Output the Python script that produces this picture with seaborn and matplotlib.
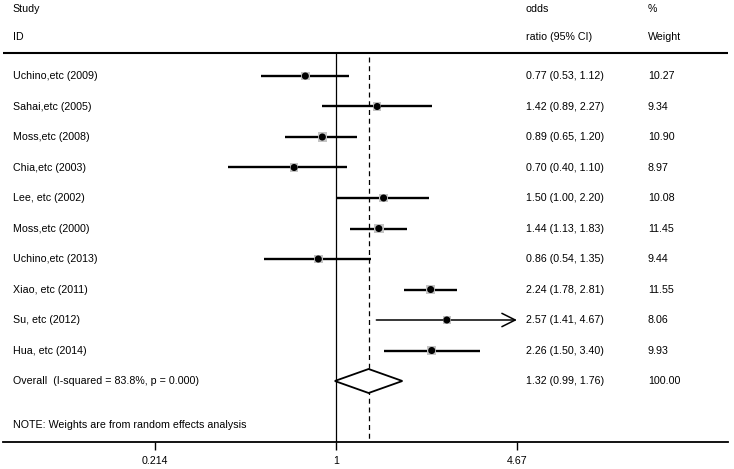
import numpy as np
import pandas as pd
import matplotlib
matplotlib.use("Agg")
import matplotlib.pyplot as plt
import seaborn as sns

studies = ["Uchino,etc (2009)", "Sahai,etc (2005)", "Moss,etc (2008)", "Chia,etc (2003)",
           "Lee, etc (2002)", "Moss,etc (2000)", "Uchino,etc (2013)", "Xiao, etc (2011)",
           "Su, etc (2012)", "Hua, etc (2014)"]
odds = [0.77, 1.42, 0.89, 0.70, 1.50, 1.44, 0.86, 2.24, 2.57, 2.26]
lower = [0.53, 0.89, 0.65, 0.40, 1.00, 1.13, 0.54, 1.78, 1.41, 1.50]
upper = [1.12, 2.27, 1.20, 1.10, 2.20, 1.83, 1.35, 2.81, 4.67, 3.40]
weights = [10.27, 9.34, 10.90, 8.97, 10.08, 11.45, 9.44, 11.55, 8.06, 9.93]
overall_label = "Overall  (I-squared = 83.8%, p = 0.000)"
overall = (1.32, 0.99, 1.76)
xticks = [0.214, 1, 4.67]
xticklabels = ["0.214", "1", "4.67"]
note = "NOTE: Weights are from random effects analysis"

sns.set_style("white")
plt.rcParams["font.family"] = ["Liberation Sans", "DejaVu Sans"]
plt.rcParams["text.color"] = "black"
plt.rcParams["xtick.color"] = "black"
plt.rcParams["axes.edgecolor"] = "black"

W, H = 734, 469
fig = plt.figure(figsize=(W / 100, H / 100), dpi=100)
# axes from pixel x 3..728, y 0..442 (bottom spine is the x axis)
ax = fig.add_axes([3 / W, (H - 442) / H, 725 / W, 442 / H])
ax.set_xscale("log")
px_per_ln = 117.4
ax.set_xlim(np.exp((3 - 336) / px_per_ln), np.exp((728 - 336) / px_per_ln))
ax.set_ylim(442, 0)

row0, step = 76, 30.5
ys = row0 + step * np.arange(len(studies))
y_over = row0 + step * len(studies)

df = pd.DataFrame({"study": studies, "or": odds, "lo": lower, "hi": upper, "w": weights, "y": ys})

fs = 7.7
tr = ax.get_yaxis_transform()
xcol0 = 0.0135
xcol1 = (526 - 3) / 725
xcol2 = (648 - 3) / 725

# header
ax.text(xcol0, 9, "Study", transform=tr, fontsize=fs, va="center")
ax.text(xcol0, 37, "ID", transform=tr, fontsize=fs, va="center")
ax.text(xcol1, 9, "odds", transform=tr, fontsize=fs, va="center")
ax.text(xcol1, 37, "ratio (95% CI)", transform=tr, fontsize=fs, va="center")
ax.text(xcol2, 9, "%", transform=tr, fontsize=fs, va="center")
ax.text(xcol2, 37, "Weight", transform=tr, fontsize=fs, va="center")
ax.axhline(53.5, color="black", lw=1.5)

# reference lines
ax.vlines(1, 53.5, 442, color="black", lw=0.9)
ax.vlines(overall[0], 57, 442, color="black", lw=0.9, linestyles=(0, (4, 3)))

# confidence intervals
xmax_line = 4.67
for _, r in df.iterrows():
    if r["hi"] >= xmax_line:
        ax.annotate("", xy=(r["hi"], r["y"]), xytext=(r["lo"], r["y"]),
                    arrowprops=dict(arrowstyle="->", lw=1.1, color="black",
                                    mutation_scale=24, shrinkA=0, shrinkB=0))
    else:
        ax.hlines(r["y"], r["lo"], r["hi"], color="black", lw=1.7)

# weight boxes and point estimates
sns.scatterplot(data=df, x="or", y="y", s=df["w"] * 4.0, marker="s", color="#c4c4c4",
                edgecolor="none", ax=ax, legend=False, zorder=3)
sns.scatterplot(data=df, x="or", y="y", s=26, color="black", edgecolor="none",
                ax=ax, legend=False, zorder=4)

for _, r in df.iterrows():
    ax.text(xcol0, r["y"], r["study"], transform=tr, fontsize=fs, va="center")
    ax.text(xcol1, r["y"], f"{r['or']:.2f} ({r['lo']:.2f}, {r['hi']:.2f})",
            transform=tr, fontsize=fs, va="center")
    ax.text(xcol2, r["y"], f"{r['w']:.2f}", transform=tr, fontsize=fs, va="center")

# overall diamond
est, lo, hi = overall
ax.fill([lo, est, hi, est, lo], [y_over, y_over - 12, y_over, y_over + 12, y_over],
        facecolor="white", edgecolor="black", lw=1.3, zorder=3)
ax.text(xcol0, y_over, overall_label, transform=tr, fontsize=fs, va="center")
ax.text(xcol1, y_over, f"{est:.2f} ({lo:.2f}, {hi:.2f})", transform=tr, fontsize=fs, va="center")
ax.text(xcol2, y_over, "100.00", transform=tr, fontsize=fs, va="center")

ax.text(xcol0, 425, note, transform=tr, fontsize=fs, va="center")

# x axis
for s in ["top", "left", "right"]:
    ax.spines[s].set_visible(False)
ax.spines["bottom"].set_linewidth(1.3)
ax.set_xticks(xticks)
ax.set_xticklabels(xticklabels, fontsize=fs)
ax.minorticks_off()
ax.tick_params(axis="x", bottom=True, length=6, width=1, pad=4, colors="black")
ax.set_yticks([])
ax.set_xlabel("")
ax.set_ylabel("")

fig.savefig("out.png", dpi=100)
